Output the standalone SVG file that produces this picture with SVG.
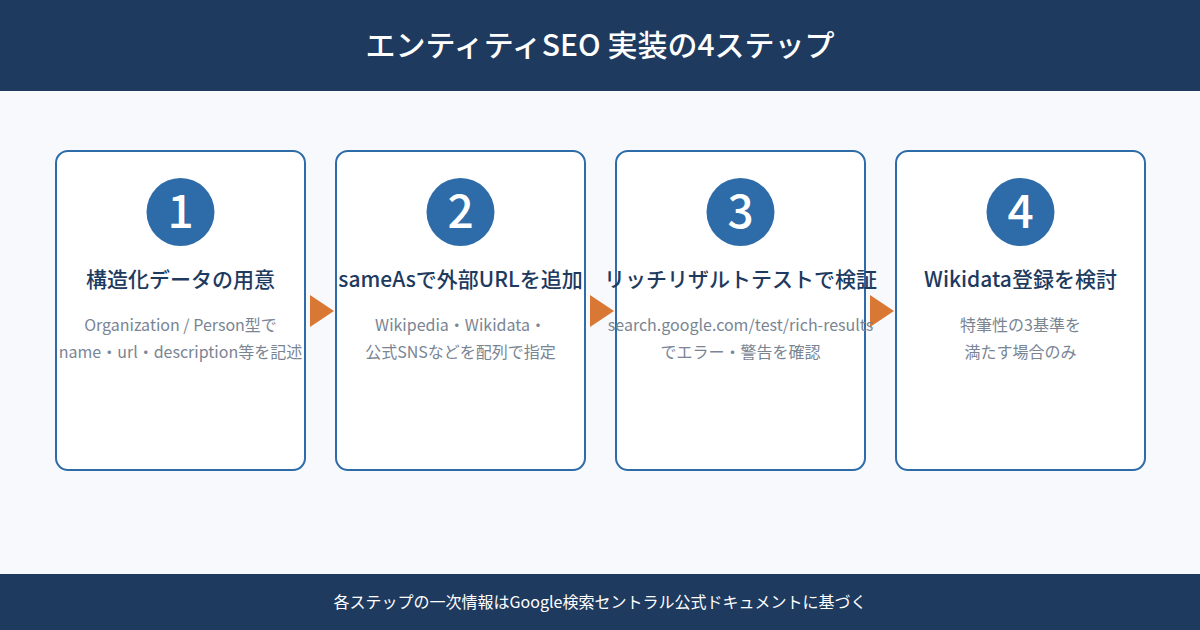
<svg xmlns="http://www.w3.org/2000/svg" width="1200" height="630" viewBox="0 0 1200 630">
<style>
text{font-family:"Noto Sans CJK JP","Noto Sans",sans-serif;text-anchor:middle}
.card{fill:#ffffff;stroke:#2d6ca8;stroke-width:2}
.num{fill:#2d6ca8}
.numt{fill:#ffffff;font-size:46px;font-weight:500}
.ttl{fill:#1e3a5f;font-size:21px;font-weight:500}
.dsc{fill:#7a8594;font-size:16px}
.arr{fill:#d97735}
</style>
<rect x="0" y="0" width="1200" height="630" fill="#f7f9fc"/>
<rect x="0" y="0" width="1200" height="91" fill="#1e3a5f"/>
<text x="600" y="56" fill="#ffffff" font-size="30" font-weight="500">エンティティSEO 実装の4ステップ</text>
<g id="connectors">
<polygon class="arr" points="310,295 334,311 310,327"/>
<polygon class="arr" points="590,295 614,311 590,327"/>
<polygon class="arr" points="870,295 894,311 870,327"/>
</g>
<g id="step1">
<rect class="card" x="56" y="151" width="249" height="319" rx="12"/>
<circle class="num" cx="180.5" cy="212" r="34"/>
<text class="numt" x="180.5" y="228">1</text>
<text class="ttl" x="180.5" y="287">構造化データの用意</text>
<text class="dsc" x="180.5" y="331">Organization / Person型で</text>
<text class="dsc" x="180.5" y="358">name・url・description等を記述</text>
</g>
<g id="step2">
<rect class="card" x="336" y="151" width="249" height="319" rx="12"/>
<circle class="num" cx="460.5" cy="212" r="34"/>
<text class="numt" x="460.5" y="228">2</text>
<text class="ttl" x="460.5" y="287">sameAsで外部URLを追加</text>
<text class="dsc" x="460.5" y="331">Wikipedia・Wikidata・</text>
<text class="dsc" x="460.5" y="358">公式SNSなどを配列で指定</text>
</g>
<g id="step3">
<rect class="card" x="616" y="151" width="249" height="319" rx="12"/>
<circle class="num" cx="740.5" cy="212" r="34"/>
<text class="numt" x="740.5" y="228">3</text>
<text class="ttl" x="740.5" y="287">リッチリザルトテストで検証</text>
<text class="dsc" x="740.5" y="331">search.google.com/test/rich-results</text>
<text class="dsc" x="740.5" y="358">でエラー・警告を確認</text>
</g>
<g id="step4">
<rect class="card" x="896" y="151" width="249" height="319" rx="12"/>
<circle class="num" cx="1020.5" cy="212" r="34"/>
<text class="numt" x="1020.5" y="228">4</text>
<text class="ttl" x="1020.5" y="287">Wikidata登録を検討</text>
<text class="dsc" x="1020.5" y="331">特筆性の3基準を</text>
<text class="dsc" x="1020.5" y="358">満たす場合のみ</text>
</g>
<rect x="0" y="574" width="1200" height="56" fill="#1e3a5f"/>
<text x="600" y="608" fill="#ffffff" font-size="16">各ステップの一次情報はGoogle検索セントラル公式ドキュメントに基づく</text>
</svg>
